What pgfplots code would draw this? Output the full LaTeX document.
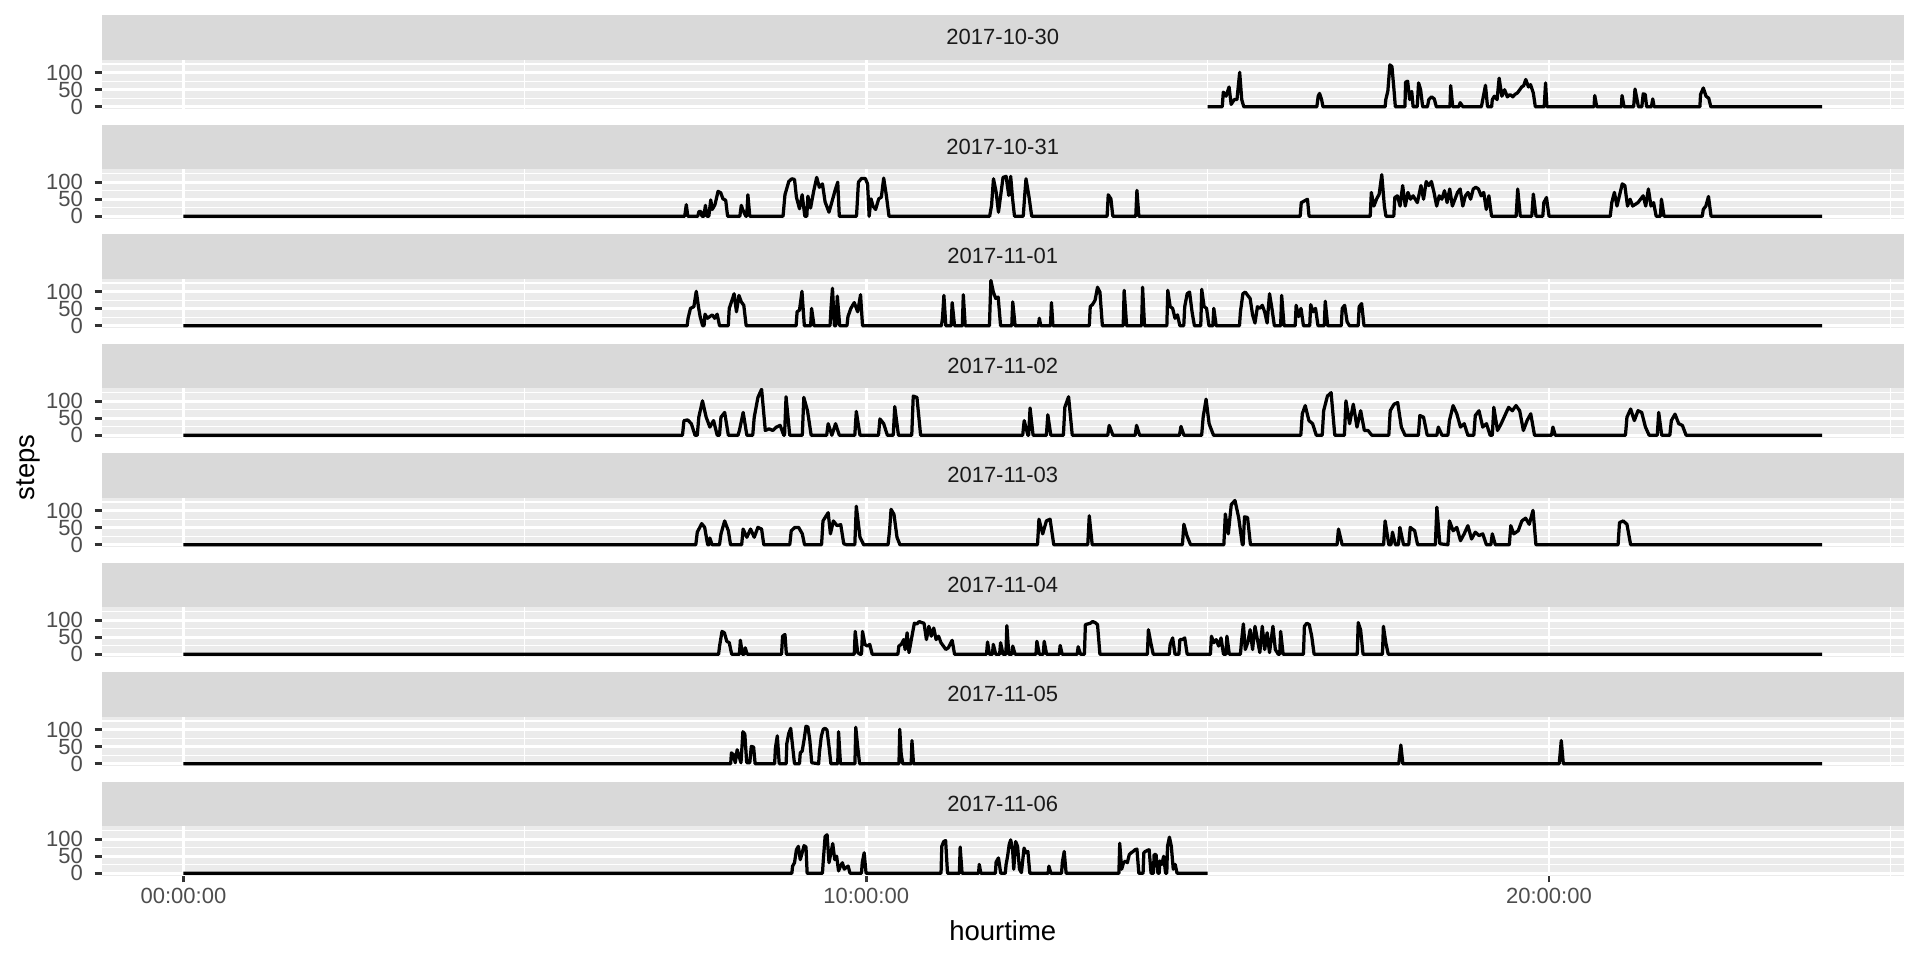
\documentclass[border=0pt]{standalone}
\usepackage{fontspec}
\setmainfont{Liberation Sans}
\usepackage{pgfplots}
\pgfplotsset{compat=1.18}
\definecolor{panelbg}{HTML}{EBEBEB}
\definecolor{stripbg}{HTML}{D9D9D9}
\definecolor{grey30}{HTML}{4D4D4D}
\definecolor{grey10}{HTML}{1A1A1A}
\definecolor{grey20}{HTML}{333333}
\pgfplotsset{
 facet/.style={
  scale only axis, width=721pt, height=19.8pt,
  anchor=north west,
  xmin=-1.2, xmax=25.2, ymin=-6.6, ymax=138.6,
  axis background/.style={fill=panelbg},
  axis line style={draw=none},
  xtick={0,10,20}, minor xtick={5,15,25},
  ytick={0,50,100}, minor ytick={25,75,125},
  yticklabels={0,50,100},
  xticklabels={},
  grid=both,
  major grid style={white, line width=1.07pt},
  minor grid style={white, line width=0.53pt},
  tick align=outside,
  major tick length=2.75pt,
  minor tick length=0pt,
  ytick pos=left, xtick pos=bottom,
  ytick style={draw=grey20, line width=1.07pt},
  xtick style={draw=none},
  yticklabel style={font=\fontsize{8.8}{8.8}\selectfont, text=grey30, anchor=east, inner sep=0pt, xshift=-4.5pt},
  xticklabel style={font=\fontsize{8.8}{8.8}\selectfont, text=grey30, anchor=base, inner sep=0pt},
 },
 strip/.style={extra description/.code={
   \fill[stripbg] (axis description cs:0,1) rectangle ([yshift=17.8pt]axis description cs:1,1);
   \node[font=\fontsize{8.8}{8.8}\selectfont, text=grey10, inner sep=0pt] at ([yshift=8.9pt]axis description cs:0.5,1) {#1};
 }},
 dline/.style={black, line width=1.3pt, line join=round},
}
\begin{document}
\begin{tikzpicture}
\useasboundingbox (0,0) rectangle (768pt,-384pt);

\begin{axis}[facet, at={(40.6pt,-23.8pt)}, strip={2017-10-30}]
\addplot[dline] coordinates {(15,0)(15.215,0)(15.23,43)(15.27,31)(15.315,58)(15.345,7)(15.39,21)(15.43,21)(15.47,101)(15.50,21)(15.53,0)(16.60,0)(16.62,31)(16.64,39)(16.67,21)(16.69,0)(17.60,0)(17.61,21)(17.64,46)(17.67,123)(17.70,118)(17.73,50)(17.75,0)(17.89,0)(17.90,72)(17.93,75)(17.96,21)(17.99,45)(18.01,0)(18.07,0)(18.09,70)(18.12,50)(18.15,0)(18.22,0)(18.24,21)(18.28,29)(18.32,23)(18.35,0)(18.55,0)(18.56,62)(18.59,0)(18.68,0)(18.70,12)(18.74,0)(19.01,0)(19.03,21)(19.07,63)(19.10,0)(19.16,0)(19.17,21)(19.20,31)(19.24,21)(19.27,84)(19.31,31)(19.35,50)(19.39,29)(19.43,36)(19.47,29)(19.50,36)(19.54,41)(19.60,58)(19.63,62)(19.66,80)(19.70,58)(19.73,65)(19.77,41)(19.80,0)(19.93,0)(19.95,70)(19.97,0)(20.66,0)(20.67,33)(20.70,0)(21.06,0)(21.07,33)(21.10,0)(21.24,0)(21.26,52)(21.29,21)(21.31,0)(21.36,0)(21.38,38)(21.41,36)(21.43,0)(21.50,0)(21.52,23)(21.54,0)(22.21,0)(22.22,36)(22.26,55)(22.30,31)(22.34,25)(22.37,0)(24,0)};
\end{axis}

\begin{axis}[facet, at={(40.6pt,-67.6pt)}, strip={2017-10-31}]
\addplot[dline] coordinates {(0,0)(7.342,0)(7.365,34)(7.387,0)(7.533,0)(7.55,14)(7.578,14)(7.594,0)(7.622,0)(7.645,32)(7.667,0)(7.695,0)(7.723,48)(7.745,20)(7.785,34)(7.83,73)(7.869,69)(7.902,51)(7.942,47)(7.97,0)(8.149,0)(8.171,32)(8.194,18)(8.238,0)(8.25,0)(8.267,63)(8.295,0)(8.782,0)(8.81,63)(8.866,102)(8.911,110)(8.95,108)(8.978,56)(9.023,22)(9.062,63)(9.101,0)(9.13,0)(9.146,59)(9.185,24)(9.23,73)(9.275,114)(9.314,85)(9.359,95)(9.398,42)(9.455,12)(9.51,51)(9.55,80)(9.583,100)(9.606,0)(9.858,0)(9.886,100)(9.931,111)(9.987,111)(10.02,95)(10.043,0)(10.071,51)(10.099,30)(10.138,20)(10.183,51)(10.222,56)(10.256,112)(10.295,61)(10.334,0)(11.808,0)(11.836,32)(11.864,110)(11.903,71)(11.937,12)(11.976,71)(12.004,114)(12.049,117)(12.088,61)(12.116,117)(12.144,51)(12.172,0)(12.30,0)(12.318,51)(12.34,110)(12.385,56)(12.424,0)(13.528,0)(13.545,63)(13.584,51)(13.612,0)(13.948,0)(13.965,76)(13.993,0)(16.356,0)(16.372,40)(16.418,45)(16.463,50)(16.486,0)(17.382,0)(17.398,70)(17.436,30)(17.474,50)(17.513,65)(17.551,122)(17.589,30)(17.612,0)(17.727,0)(17.742,55)(17.78,60)(17.819,30)(17.857,90)(17.895,30)(17.934,70)(17.972,50)(18.01,60)(18.072,40)(18.125,90)(18.163,50)(18.202,102)(18.24,90)(18.278,102)(18.316,70)(18.355,30)(18.393,60)(18.431,50)(18.47,75)(18.508,40)(18.546,80)(18.585,30)(18.623,50)(18.661,70)(18.699,80)(18.738,30)(18.776,60)(18.814,70)(18.852,50)(18.891,80)(18.929,85)(18.967,80)(19.006,60)(19.044,70)(19.082,20)(19.12,60)(19.159,0)(19.519,0)(19.542,80)(19.58,0)(19.748,0)(19.771,65)(19.81,0)(19.909,0)(19.925,40)(19.963,55)(20.001,0)(20.897,0)(20.92,40)(20.958,70)(20.996,30)(21.073,95)(21.111,90)(21.15,30)(21.188,50)(21.226,30)(21.303,40)(21.379,60)(21.417,30)(21.456,80)(21.494,30)(21.532,40)(21.57,0)(21.632,0)(21.647,50)(21.685,0)(22.245,0)(22.26,20)(22.298,30)(22.336,58)(22.374,0)(24,0)};
\end{axis}

\begin{axis}[facet, at={(40.6pt,-111.4pt)}, strip={2017-11-01}]
\addplot[dline] coordinates {(0,0)(7.377,0)(7.391,22)(7.426,51)(7.476,56)(7.511,101)(7.547,51)(7.568,27)(7.604,0)(7.625,0)(7.639,34)(7.675,22)(7.71,27)(7.746,32)(7.781,22)(7.817,34)(7.852,0)(7.98,0)(7.994,51)(8.03,72)(8.065,94)(8.1,41)(8.136,89)(8.171,70)(8.207,60)(8.242,0)(8.973,0)(8.988,41)(9.023,46)(9.059,101)(9.094,0)(9.186,0)(9.2,51)(9.236,0)(9.47,0)(9.484,51)(9.506,110)(9.534,0)(9.555,0)(9.577,87)(9.612,0)(9.718,0)(9.733,27)(9.775,51)(9.825,68)(9.875,41)(9.917,91)(9.946,0)(11.102,0)(11.117,22)(11.138,89)(11.166,0)(11.244,0)(11.259,68)(11.294,0)(11.408,0)(11.422,91)(11.45,0)(11.805,0)(11.826,133)(11.862,99)(11.897,80)(11.933,84)(11.968,0)(12.132,0)(12.146,70)(12.181,0)(12.522,0)(12.536,22)(12.557,0)(12.699,0)(12.713,68)(12.735,0)(13.267,0)(13.281,56)(13.317,63)(13.352,75)(13.388,113)(13.423,99)(13.459,0)(13.764,0)(13.778,104)(13.814,0)(14.033,0)(14.048,113)(14.076,0)(14.403,0)(14.417,104)(14.452,56)(14.488,51)(14.523,22)(14.559,32)(14.594,0)(14.651,0)(14.665,56)(14.701,94)(14.736,99)(14.772,41)(14.807,0)(14.9,0)(14.914,107)(14.949,56)(14.985,51)(15.02,0)(15.077,0)(15.091,51)(15.126,0)(15.467,0)(15.481,41)(15.517,94)(15.552,99)(15.588,89)(15.623,80)(15.659,32)(15.694,8)(15.73,56)(15.765,51)(15.801,60)(15.836,41)(15.872,8)(15.907,94)(15.942,51)(15.978,0)(16.07,0)(16.085,89)(16.12,0)(16.283,0)(16.297,60)(16.333,27)(16.368,51)(16.404,0)(16.496,0)(16.51,62)(16.546,41)(16.581,51)(16.617,0)(16.709,0)(16.723,72)(16.759,0)(16.958,0)(16.972,51)(17.007,60)(17.043,12)(17.078,0)(17.206,0)(17.22,56)(17.256,65)(17.291,0)(24,0)};
\end{axis}

\begin{axis}[facet, at={(40.6pt,-155.2pt)}, strip={2017-11-02}]
\addplot[dline] coordinates {(0,0)(7.309,0)(7.331,43)(7.385,45)(7.439,34)(7.493,0)(7.526,0)(7.548,53)(7.602,101)(7.656,53)(7.71,24)(7.764,43)(7.818,0)(7.851,0)(7.873,53)(7.927,67)(7.981,0)(8.122,0)(8.143,14)(8.198,67)(8.252,0)(8.338,0)(8.36,53)(8.414,111)(8.468,135)(8.522,14)(8.577,19)(8.631,14)(8.685,24)(8.739,29)(8.793,0)(8.804,0)(8.826,113)(8.88,0)(9.064,0)(9.086,111)(9.14,72)(9.194,0)(9.421,0)(9.443,34)(9.497,0)(9.551,34)(9.606,0)(9.833,0)(9.855,70)(9.909,0)(10.18,0)(10.201,48)(10.256,34)(10.31,0)(10.396,0)(10.418,84)(10.472,0)(10.667,0)(10.689,115)(10.743,111)(10.797,0)(12.292,0)(12.314,43)(12.368,0)(12.379,0)(12.4,80)(12.444,0)(12.639,0)(12.66,60)(12.704,0)(12.888,0)(12.909,82)(12.964,113)(13.018,0)(13.538,0)(13.559,29)(13.614,0)(13.939,0)(13.96,29)(14.004,0)(14.588,0)(14.61,26)(14.653,0)(14.913,0)(14.935,53)(14.978,106)(15.022,34)(15.087,0)(16.365,0)(16.387,63)(16.43,87)(16.484,43)(16.538,34)(16.592,0)(16.679,0)(16.7,72)(16.755,115)(16.809,125)(16.863,0)(17.004,0)(17.026,101)(17.08,34)(17.134,91)(17.188,24)(17.242,72)(17.296,14)(17.35,14)(17.405,0)(17.654,0)(17.675,72)(17.73,91)(17.784,96)(17.838,24)(17.892,0)(18.087,0)(18.109,58)(18.163,53)(18.217,0)(18.358,0)(18.379,24)(18.433,0)(18.52,0)(18.542,43)(18.596,87)(18.65,63)(18.704,24)(18.758,34)(18.812,0)(18.899,0)(18.921,58)(18.975,72)(19.03,24)(19.084,34)(19.138,0)(19.17,0)(19.192,82)(19.246,14)(19.3,34)(19.354,58)(19.409,82)(19.463,72)(19.517,87)(19.571,72)(19.625,14)(19.679,43)(19.733,63)(19.788,0)(20.037,0)(20.058,24)(20.091,0)(21.12,0)(21.142,53)(21.196,77)(21.25,43)(21.304,72)(21.358,67)(21.413,24)(21.467,0)(21.586,0)(21.607,67)(21.651,0)(21.77,0)(21.792,43)(21.846,62)(21.9,34)(21.954,29)(22.008,0)(24,0)};
\end{axis}

\begin{axis}[facet, at={(40.6pt,-199.0pt)}, strip={2017-11-03}]
\addplot[dline] coordinates {(0,0)(7.504,0)(7.526,37)(7.591,62)(7.634,51)(7.678,0)(7.699,0)(7.71,20)(7.743,0)(7.851,0)(7.873,32)(7.927,70)(7.981,41)(8.013,0)(8.176,0)(8.197,46)(8.252,22)(8.306,46)(8.36,22)(8.414,51)(8.468,46)(8.5,0)(8.88,0)(8.902,41)(8.956,51)(9.01,51)(9.064,32)(9.097,0)(9.346,0)(9.367,70)(9.443,94)(9.476,32)(9.519,70)(9.573,56)(9.627,59)(9.671,3)(9.714,0)(9.833,0)(9.855,113)(9.909,22)(9.963,0)(10.32,0)(10.342,41)(10.364,104)(10.407,89)(10.451,22)(10.494,0)(12.509,0)(12.53,75)(12.585,32)(12.639,70)(12.693,75)(12.747,0)(13.245,0)(13.267,85)(13.31,0)(14.631,0)(14.653,60)(14.697,27)(14.751,0)(15.238,0)(15.26,90)(15.303,32)(15.347,118)(15.401,130)(15.455,80)(15.509,0)(15.52,0)(15.541,82)(15.585,80)(15.628,0)(16.896,0)(16.917,46)(16.971,0)(17.578,0)(17.6,70)(17.654,0)(17.686,0)(17.708,37)(17.751,0)(17.795,0)(17.816,51)(17.87,0)(17.946,0)(17.968,51)(18.033,41)(18.076,0)(18.336,0)(18.358,110)(18.401,3)(18.52,0)(18.542,70)(18.596,41)(18.65,51)(18.704,12)(18.758,32)(18.812,56)(18.866,17)(18.921,37)(18.975,27)(19.03,32)(19.084,0)(19.149,0)(19.17,32)(19.214,0)(19.419,0)(19.441,56)(19.484,32)(19.549,41)(19.603,70)(19.657,78)(19.711,60)(19.766,101)(19.809,0)(21.012,0)(21.033,65)(21.087,70)(21.142,60)(21.196,0)(24,0)};
\end{axis}

\begin{axis}[facet, at={(40.6pt,-242.8pt)}, strip={2017-11-04}]
\addplot[dline] coordinates {(0,0)(7.838,0)(7.852,24)(7.888,67)(7.923,63)(7.958,38)(7.994,34)(8.03,0)(8.143,0)(8.157,41)(8.186,0)(8.214,0)(8.228,19)(8.257,0)(8.76,0)(8.775,53)(8.81,58)(8.831,0)(9.825,0)(9.839,67)(9.875,5)(9.91,0)(9.931,0)(9.946,67)(9.981,29)(10.017,24)(10.052,29)(10.088,0)(10.464,0)(10.478,24)(10.513,29)(10.549,43)(10.57,14)(10.599,63)(10.627,5)(10.67,53)(10.705,91)(10.741,89)(10.776,96)(10.812,93)(10.847,91)(10.882,43)(10.918,82)(10.953,53)(10.989,77)(11.024,43)(11.06,53)(11.095,34)(11.131,24)(11.166,14)(11.202,19)(11.259,41)(11.294,0)(11.762,0)(11.777,36)(11.805,0)(11.848,0)(11.862,29)(11.897,0)(11.954,0)(11.968,34)(12.004,0)(12.046,0)(12.06,84)(12.089,0)(12.132,0)(12.146,24)(12.181,0)(12.486,0)(12.5,38)(12.536,0)(12.593,0)(12.607,38)(12.642,0)(12.827,0)(12.841,26)(12.87,0)(13.09,0)(13.104,22)(13.139,0)(13.196,0)(13.21,87)(13.246,89)(13.281,91)(13.317,96)(13.352,93)(13.388,87)(13.423,0)(14.118,0)(14.133,72)(14.168,34)(14.204,0)(14.438,0)(14.452,29)(14.488,48)(14.523,0)(14.58,0)(14.594,43)(14.63,43)(14.665,48)(14.701,0)(15.041,0)(15.056,53)(15.091,34)(15.126,43)(15.162,24)(15.197,48)(15.233,0)(15.268,0)(15.283,53)(15.318,0)(15.481,0)(15.495,34)(15.524,89)(15.552,14)(15.588,34)(15.623,72)(15.659,14)(15.694,82)(15.73,43)(15.765,5)(15.801,82)(15.836,14)(15.872,63)(15.907,5)(15.957,82)(15.992,14)(16.035,0)(16.056,0)(16.07,67)(16.106,0)(16.404,0)(16.418,82)(16.454,91)(16.489,87)(16.525,53)(16.56,0)(17.192,0)(17.206,93)(17.241,72)(17.277,0)(17.561,0)(17.575,82)(17.61,34)(17.646,0)(24,0)};
\end{axis}

\begin{axis}[facet, at={(40.6pt,-286.6pt)}, strip={2017-11-05}]
\addplot[dline] coordinates {(0,0)(8.015,0)(8.026,32)(8.054,27)(8.082,3)(8.11,41)(8.138,22)(8.166,3)(8.194,94)(8.222,87)(8.25,3)(8.295,3)(8.317,51)(8.351,49)(8.373,0)(8.659,0)(8.67,46)(8.698,82)(8.726,0)(8.827,0)(8.838,60)(8.866,89)(8.894,104)(8.922,51)(8.95,0)(9.023,0)(9.034,32)(9.062,37)(9.09,70)(9.118,110)(9.146,108)(9.174,70)(9.202,3)(9.303,0)(9.314,32)(9.342,80)(9.37,101)(9.398,104)(9.426,99)(9.455,51)(9.483,0)(9.583,0)(9.595,94)(9.623,0)(9.835,0)(9.847,107)(9.875,51)(9.903,0)(10.48,0)(10.491,101)(10.513,27)(10.536,0)(10.659,0)(10.67,68)(10.693,0)(17.80,0)(17.83,55)(17.86,0)(20.15,0)(20.18,68)(20.21,0)(24,0)};
\end{axis}

\begin{axis}[facet, at={(40.6pt,-330.4pt)}, strip={2017-11-06},
  xtick style={draw=grey20, line width=1.07pt},
  xticklabels={00:00:00,10:00:00,20:00:00},
  xticklabel style={yshift=-8.6pt}]
\addplot[dline] coordinates {(0,0)(8.911,0)(8.922,21)(8.95,31)(8.978,69)(9.006,79)(9.034,40)(9.062,60)(9.09,81)(9.118,77)(9.135,0)(9.359,0)(9.37,33)(9.398,108)(9.427,113)(9.455,31)(9.483,60)(9.51,87)(9.539,40)(9.567,50)(9.595,7)(9.623,21)(9.651,31)(9.679,12)(9.707,17)(9.735,21)(9.763,0)(9.931,0)(9.942,31)(9.97,60)(9.998,0)(11.096,0)(11.107,79)(11.135,93)(11.163,96)(11.191,0)(11.365,0)(11.376,77)(11.404,0)(11.645,0)(11.656,26)(11.679,0)(11.892,0)(11.903,33)(11.937,45)(11.97,0)(12.037,0)(12.049,26)(12.071,50)(12.094,84)(12.116,98)(12.144,69)(12.161,12)(12.189,93)(12.217,79)(12.245,12)(12.273,2)(12.312,74)(12.34,60)(12.368,64)(12.396,0)(12.665,0)(12.676,21)(12.704,0)(12.861,0)(12.872,31)(12.9,64)(12.928,0)(13.701,0)(13.713,88)(13.741,12)(13.769,31)(13.797,36)(13.825,31)(13.853,55)(13.881,60)(13.909,64)(13.937,69)(13.965,71)(13.993,0)(14.055,0)(14.066,60)(14.088,64)(14.116,67)(14.144,69)(14.172,0)(14.206,0)(14.217,55)(14.245,55)(14.273,0)(14.29,0)(14.301,36)(14.329,26)(14.357,50)(14.385,0)(14.402,0)(14.413,79)(14.441,106)(14.469,79)(14.497,12)(14.525,26)(14.553,0)(15,0)};
\end{axis}

\node[anchor=base, font=\fontsize{11}{11}\selectfont, inner sep=0pt] at (401.1pt,-376pt) {hourtime};
\node[rotate=90, font=\fontsize{11}{11}\selectfont, inner sep=0pt] at (11.3pt,-187pt) {steps};
\end{tikzpicture}
\end{document}
